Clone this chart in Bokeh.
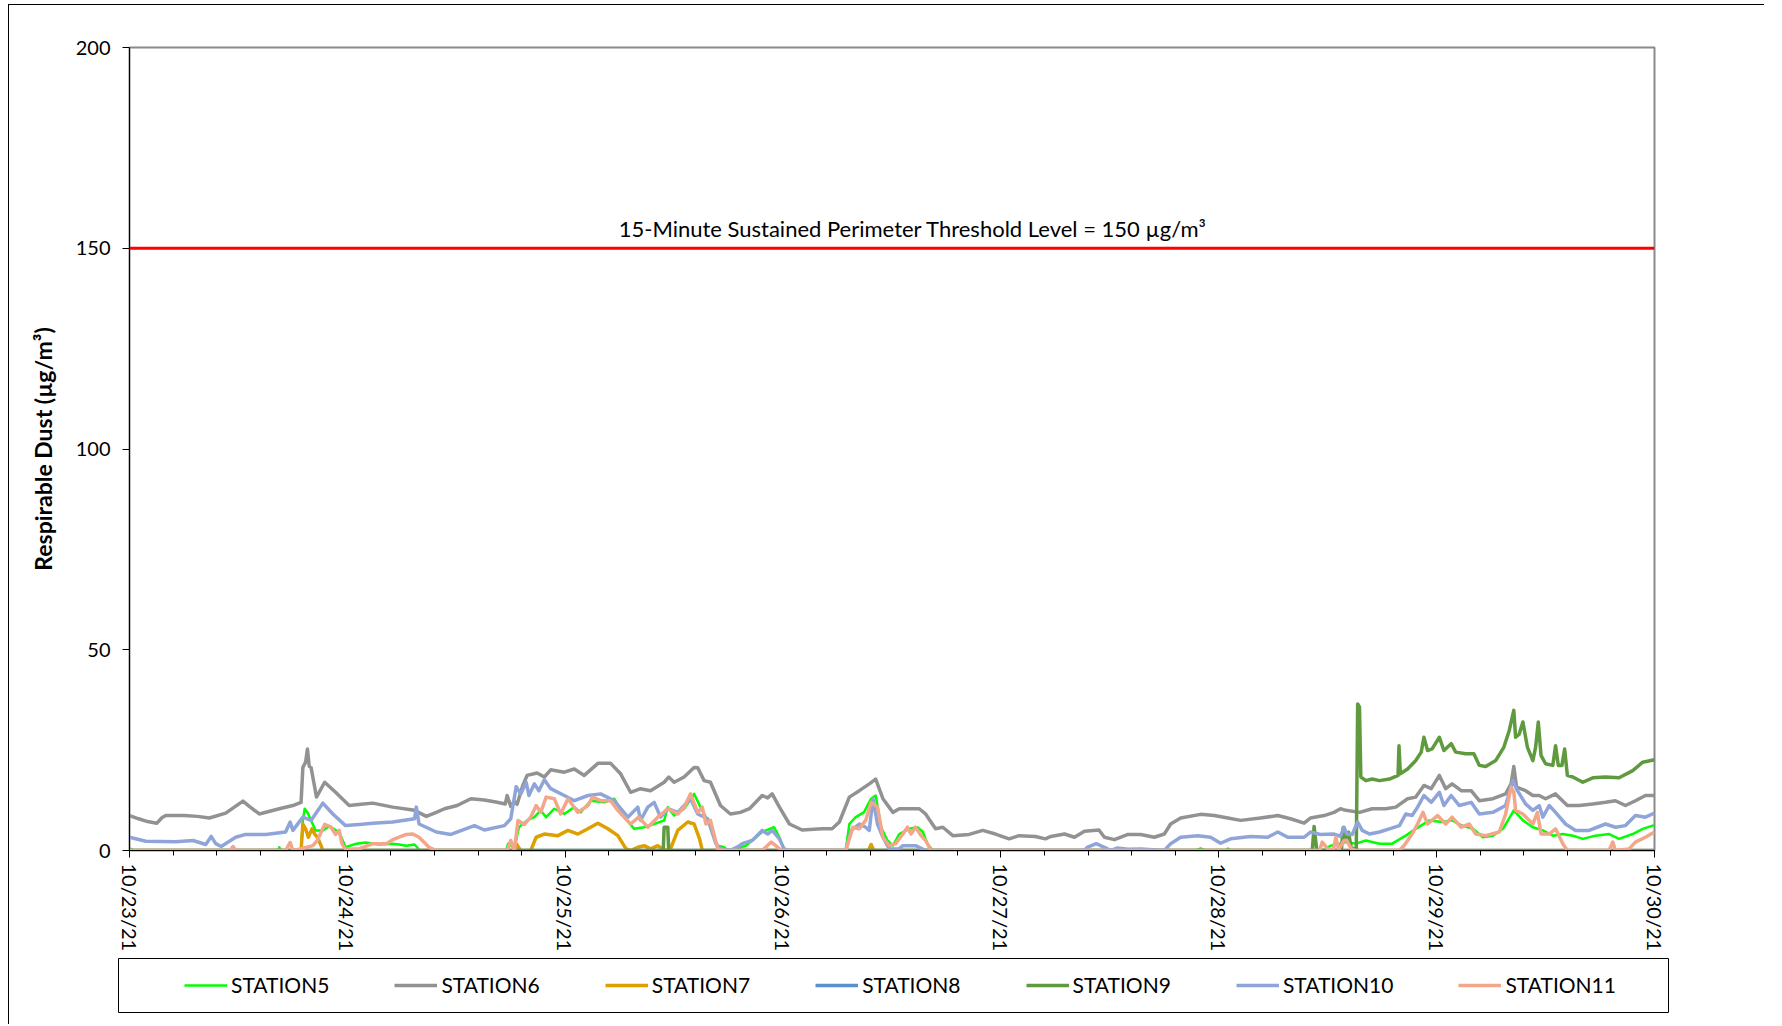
import numpy as np
import pandas as pd
from bokeh.plotting import figure
from bokeh.layouts import column
from bokeh.models import (Range1d, FixedTicker, DatetimeTickFormatter, Span, Label,
                          Legend, LegendItem)
from bokeh.embed import file_html
from bokeh.resources import INLINE

# ---------------- data (hours from 10/23/21 00:00, values in ug/m3) ----------------
START = pd.Timestamp("2021-10-23")
day_labels = ["10/23/21", "10/24/21", "10/25/21", "10/26/21",
              "10/27/21", "10/28/21", "10/29/21", "10/30/21"]
y_ticks = [0, 50, 100, 150, 200]
threshold = 150
threshold_text = "15-Minute Sustained Perimeter Threshold Level = 150 µg/m³"
y_label = "Respirable Dust (µg/m³)"

s5_h = [0, 0.5, 16.4, 16.5, 16.7, 18.9, 19.1, 19.3, 19.6, 20.0, 20.5, 21.3, 22.0, 23.1, 23.8,
        25.0, 26.0, 27.5, 29.0, 29.7, 30.5, 31.4, 32.0, 41.5, 41.7, 42.4, 42.9, 43.8, 44.6,
        45.3, 45.9, 46.8, 47.9, 49.0, 49.7, 50.8, 52.3, 53.4, 54.5, 55.6, 56.7, 57.8, 58.9,
        59.3, 60.0, 61.1, 62.2, 62.9, 63.7, 64.4, 64.8, 65.5, 65.9, 66.8, 67.9, 69.7, 71.0,
        71.6, 72.1, 72.7, 78.9, 79.3, 80.0, 80.9, 81.7, 82.2, 82.8, 83.5, 84.1, 84.8, 85.9,
        86.8, 87.4, 87.9, 88.5, 117.5, 118.0, 118.5, 120.8, 121.0, 121.3, 131.5, 132.3, 133.0,
        134.0, 135.1, 136.2, 137.7, 139.1, 140.6, 141.7, 143.2, 144.6, 145.7, 146.8, 148.0,
        149.1, 150.2, 151.3, 152.5, 153.5, 154.6, 155.7, 156.8, 157.9, 159.0, 160.1, 161.5,
        163.0, 164.1, 165.6, 166.7, 167.8, 168.0]
s5_v = [0.5, 0, 0, 0.8, 0, 0, 7.5, 10.4, 9.5, 7.5, 5.0, 5.0, 6.0, 4.6, 0.8,
        1.7, 2.0, 1.5, 1.7, 1.5, 1.2, 1.5, 0, 0, 1.7, 0.5, 5.8, 7.5, 8.3,
        10.0, 8.3, 10.4, 9.1, 10.8, 9.5, 12.4, 12.0, 12.9, 8.3, 5.4, 5.8, 6.6, 7.5,
        10.8, 8.7, 10.4, 14.1, 10.8, 7.5, 3.3, 1.2, 0.8, 0, 0.5, 1.2, 4.6, 5.8,
        3.3, 0.4, 0, 0, 6.6, 8.3, 9.5, 12.9, 13.7, 5.8, 2.5, 1.2, 4.1, 5.4,
        5.8, 4.6, 1.7, 0, 0, 0.5, 0, 0, 0.5, 0, 0, 1.2, 1.5,
        2.1, 1.7, 2.5, 1.7, 1.7, 3.7, 5.4, 7.5, 7.1, 7.5, 6.2, 5.4,
        3.3, 3.7, 5.4, 10.0, 7.5, 5.8, 5.0, 3.7, 4.1, 3.7, 2.9, 3.7,
        4.1, 2.9, 4.1, 5.4, 6.2, 6.2]

s6_h = [0, 1, 2, 3, 3.6, 4, 6, 7.5, 8.8, 10.6, 12.5, 13.2, 14.3, 16.5, 18, 18.9, 19.1, 19.4,
        19.6, 19.8, 20.0, 20.3, 20.6, 21.5, 22.7, 24.2, 25.5, 26.8, 29, 31.4, 32.7, 33.8,
        34.7, 36.1, 37.6, 39.1, 40.5, 41.4, 41.6, 42.0, 42.4, 42.7, 43.3, 43.8, 44.9, 45.7,
        46.4, 47.9, 49.0, 50.1, 51.6, 53.0, 54.1, 55.2, 56.3, 57.4, 58.9, 59.4, 60.0, 61.1,
        62.2, 62.6, 63.3, 64.0, 65.1, 66.2, 67.3, 68.3, 69.7, 70.3, 70.8, 71.6, 72.7, 74.1,
        76.3, 77.4, 78.2, 79.3, 80.4, 81.5, 82.2, 83.0, 84.1, 84.8, 87.0, 87.7, 88.8, 89.6,
        90.7, 92.5, 94.0, 95.4, 96.9, 98.0, 99.8, 100.9, 101.5, 103.0, 104.1, 105.2, 106.8,
        107.4, 108.5, 110.0, 111.4, 112.9, 114.0, 114.7, 115.8, 118.0, 119.5, 121.0, 122.4,
        124.6, 126.5, 127.9, 129.4, 130.1, 131.6, 132.7, 133.4, 134.0, 135.5, 136.9, 138.4,
        139.5, 140.8, 141.7, 142.6, 143.4, 144.3, 145.0, 145.7, 146.7, 147.8, 148.7, 150.2,
        151.6, 152.2, 152.5, 152.8, 153.8, 154.6, 155.3, 156.0, 157.1, 158.4, 159.7, 161.2,
        162.6, 163.7, 164.8, 165.9, 167.0, 168.0]
s6_v = [8.7, 7.9, 7.2, 6.8, 8.2, 8.7, 8.7, 8.5, 8.1, 9.3, 12.3, 11.0, 9.1, 10.4, 11.2, 12.0, 20.7, 22.0,
        25.3, 21.0, 20.7, 17.0, 13.3, 17.0, 14.5, 11.2, 11.5, 11.8, 10.8, 10.0, 8.5, 9.5,
        10.4, 11.2, 12.9, 12.6, 12.0, 11.6, 13.7, 11.0, 12.2, 11.5, 16.0, 18.7, 19.3, 18.3,
        20.1, 19.5, 20.3, 18.7, 21.7, 21.7, 19.1, 14.5, 15.4, 14.9, 17.0, 18.3, 17.0, 18.3,
        20.7, 20.6, 17.4, 17.0, 11.2, 9.1, 9.5, 10.4, 13.7, 13.1, 14.1, 10.8, 6.6, 5.1,
        5.4, 5.4, 7.1, 13.3, 14.9, 16.6, 17.8, 12.9, 9.5, 10.4, 10.4, 9.1, 5.4, 5.8,
        3.7, 4.0, 5.0, 4.1, 2.9, 3.7, 3.5, 2.9, 3.5, 4.1, 3.3, 4.8, 5.1,
        3.3, 2.7, 4.0, 4.0, 3.3, 4.1, 6.6, 8.1, 9.0, 8.7, 8.1, 7.5,
        8.1, 8.7, 7.9, 6.8, 8.1, 8.7, 9.5, 10.4, 10.0, 9.5, 10.4, 10.4,
        10.8, 12.9, 13.3, 16.2, 15.4, 18.7, 15.4, 16.6, 14.9, 14.9, 12.4, 12.9,
        14.1, 16.6, 20.9, 15.8, 14.9, 13.7, 13.7, 12.9, 14.1, 11.2, 11.2, 11.6,
        12.0, 12.4, 11.2, 12.4, 13.7, 13.7]

s7_h = [0, 18.9, 19.1, 19.4, 19.7, 20.1, 20.4, 20.7, 21.1, 21.3, 42.4, 42.6, 43.1, 44.2, 44.8,
        45.7, 47.2, 48.3, 49.4, 50.5, 51.6, 52.7, 53.8, 54.7, 55.2, 56.0, 56.7, 57.4, 58.2,
        58.9, 59.6, 60.4, 61.5, 62.2, 62.8, 63.1, 81.4, 81.7, 82.0, 168.0]
s7_v = [0, 0, 6.6, 5.4, 3.3, 5.4, 4.1, 3.3, 1.2, 0, 0, 1.7, 0, 0, 3.3,
        4.1, 3.7, 5.0, 4.1, 5.4, 6.8, 5.4, 3.7, 0.4, 0, 0.8, 1.2, 0.4, 1.2,
        0, 0.4, 5.0, 7.1, 6.6, 2.9, 0, 0, 1.5, 0, 0]

s8_h = [0, 168.0]
s8_v = [0, 0]

s9_h = [0, 58.8, 58.9, 59.3, 59.4, 130.3, 130.5, 130.8, 133.5, 133.7, 134.0, 134.3, 134.6,
        135.15, 135.3, 135.5, 135.65, 136.2, 136.9, 137.7, 138.8, 139.75, 139.85, 140.0, 140.8,
        141.7, 142.3, 142.6, 143.0, 143.5, 144.3, 144.8, 145.6, 146.1, 147.2, 148.1, 148.7,
        149.4, 150.5, 151.4, 152.0, 152.5, 152.7, 153.1, 153.5, 154.0, 154.6, 154.9, 155.2,
        155.5, 156.0, 156.8, 157.1, 157.4, 157.8, 158.1, 158.4, 159.0, 160.1, 161.2, 162.6,
        164.1, 165.6, 166.7, 168.0]
s9_v = [0, 0, 5.8, 5.8, 0, 0, 6.0, 0, 0, 5.7, 3.0, 4.5, 0.5,
        0.5, 36.5, 35.7, 18.3, 17.4, 17.8, 17.4, 17.8, 18.7, 26.1, 19.1, 20.3,
        22.4, 24.5, 28.2, 24.9, 25.3, 28.2, 24.9, 26.6, 24.5, 24.1, 24.1, 21.2,
        20.9, 22.4, 25.7, 29.9, 34.9, 28.2, 29.0, 32.0, 25.7, 22.4, 25.7, 32.0,
        23.7, 21.6, 21.2, 26.1, 21.2, 21.2, 25.3, 18.7, 18.3, 17.0, 18.1, 18.3,
        18.1, 19.9, 22.0, 22.6]

s10_h = [0, 1.8, 5.1, 7.0, 8.4, 9.0, 9.5, 10.1, 11.7, 12.8, 15.0, 17.2, 17.7, 18.0, 19.1, 20.0,
         21.3, 22.4, 23.8, 25.3, 26.8, 29.0, 31.4, 31.6, 31.9, 33.8, 35.4, 38.0, 39.1, 41.3,
         42.0, 42.6, 43.1, 43.7, 44.0, 44.6, 45.1, 45.7, 46.4, 47.9, 49.0, 50.5, 51.9, 53.4,
         54.9, 56.0, 56.3, 57.1, 57.8, 58.5, 59.3, 60.4, 61.8, 62.6, 63.7, 64.6, 65.1, 66.2,
         67.2, 67.5, 68.6, 69.7, 70.3, 70.8, 71.6, 72.1, 72.7, 78.9, 79.5, 80.4, 81.1, 81.5,
         81.9, 82.4, 83.0, 83.7, 84.8, 85.2, 86.6, 87.7, 105.2, 105.5, 106.5, 107.4, 108.1,
         108.8, 110.0, 111.4, 114.0, 114.7, 115.8, 117.7, 119.1, 120.2, 121.3, 123.5, 125.4,
         126.5, 127.6, 129.4, 130.1, 131.2, 132.7, 133.4, 133.8, 134.1, 134.7, 135.3, 135.8,
         136.6, 137.7, 138.8, 139.9, 140.6, 141.3, 141.9, 142.6, 143.4, 144.3, 144.8, 145.6,
         146.5, 147.8, 148.7, 150.2, 151.6, 152.4, 152.9, 153.8, 154.6, 155.3, 155.7, 156.4,
         157.1, 158.2, 159.3, 160.8, 162.6, 163.7, 164.8, 165.9, 167.0, 168.0]
s10_v = [3.3, 2.3, 2.2, 2.5, 1.5, 3.5, 1.7, 1.0, 3.3, 4.0, 4.0, 4.6, 7.1, 5.0, 8.3, 7.5,
         11.8, 9.1, 6.2, 6.5, 6.8, 7.1, 7.9, 10.8, 6.6, 4.6, 4.0, 6.2, 5.1, 6.2,
         7.9, 15.9, 14.1, 17.0, 13.7, 16.6, 14.9, 17.6, 15.4, 13.7, 12.4, 13.7, 14.1, 12.4,
         8.3, 10.8, 7.5, 10.8, 12.0, 8.3, 10.4, 9.5, 12.9, 9.1, 7.9, 1.7, 0.4, 0,
         1.2, 1.7, 2.5, 5.0, 4.1, 5.0, 2.9, 0.4, 0, 0, 5.0, 6.6, 5.8, 5.0,
         12.9, 6.6, 3.3, 0.4, 0.4, 1.2, 1.2, 0, 0, 0.8, 1.7, 0.8, 0,
         0.6, 0.3, 0.4, 0, 1.7, 3.3, 3.7, 3.3, 1.8, 2.9, 3.5, 3.3,
         4.6, 3.3, 3.3, 4.6, 4.0, 4.1, 3.5, 5.8, 4.1, 4.0, 7.1, 5.0,
         4.1, 4.6, 5.4, 6.2, 9.1, 8.7, 10.8, 13.7, 12.0, 14.5, 11.2, 13.7,
         11.2, 12.0, 9.1, 9.5, 11.2, 17.4, 14.9, 11.6, 10.0, 11.2, 8.3, 11.2,
         9.5, 6.6, 5.0, 5.0, 6.6, 5.8, 6.2, 8.7, 8.3, 9.3]

s11_h = [0, 11.1, 11.4, 11.7, 17.2, 17.7, 18.0, 18.7, 20.2, 20.7, 21.5, 22.2, 22.7, 23.1, 23.4,
         23.8, 25.3, 26.8, 28.3, 29.0, 30.5, 31.2, 31.9, 33.0, 33.8, 41.6, 42.0, 42.4, 42.8,
         43.5, 44.2, 44.8, 45.3, 45.9, 46.8, 47.5, 48.3, 49.4, 50.5, 51.0, 51.9, 53.0, 53.8,
         55.2, 56.1, 57.1, 58.2, 59.3, 60.4, 61.1, 61.8, 62.6, 63.1, 63.5, 64.0, 64.8, 65.5,
         69.7, 70.7, 71.2, 71.8, 78.9, 79.7, 80.4, 81.1, 81.7, 82.4, 83.0, 83.7, 84.4, 85.2,
         85.7, 86.1, 86.6, 87.2, 87.7, 88.3, 131.1, 131.4, 132.0, 132.6, 132.9, 133.2, 133.8,
         134.1, 134.6, 135.1, 139.9, 140.4, 141.3, 141.9, 142.5, 143.0, 144.1, 145.0, 145.7,
         146.7, 147.6, 148.3, 149.4, 150.9, 151.6, 152.2, 152.5, 152.7, 153.5, 154.6, 155.1,
         155.5, 156.4, 157.1, 157.9, 158.4, 163.0, 163.4, 163.7, 165.2, 165.9, 167.0, 168.0]
s11_v = [0, 0, 1.0, 0, 0, 2.0, 0, 0.3, 1.2, 2.5, 6.5, 5.8, 4.0, 5.0, 1.7,
         0.4, 0.4, 1.7, 1.7, 2.7, 4.0, 4.1, 3.3, 0.8, 0, 0, 2.5, 0, 7.5,
         6.5, 8.3, 11.2, 9.5, 13.3, 12.9, 9.1, 12.9, 9.5, 11.2, 13.3, 12.4, 12.4, 10.0,
         6.6, 8.3, 5.8, 8.3, 10.4, 9.1, 10.8, 14.1, 9.5, 10.8, 6.6, 7.5, 0.4, 0,
         0, 2.1, 1.2, 0, 0, 5.8, 5.4, 7.5, 12.0, 10.8, 3.3, 1.2, 1.7, 4.1,
         5.8, 4.1, 5.8, 3.7, 2.5, 0, 0, 2.1, 0.4, 0, 3.3, 0.2, 2.5,
         2.5, 0.4, 0, 0, 1.2, 4.1, 6.6, 9.5, 6.6, 8.7, 6.6, 8.3,
         5.8, 6.6, 4.1, 3.7, 4.6, 9.1, 15.8, 14.5, 10.0, 9.1, 6.6, 9.5,
         4.1, 4.1, 5.4, 1.7, 0, 0, 2.1, 0, 0.4, 2.1, 3.3, 4.6]

series_names = ["STATION5", "STATION6", "STATION7", "STATION8",
                "STATION9", "STATION10", "STATION11"]
series_hours = [s5_h, s6_h, s7_h, s8_h, s9_h, s10_h, s11_h]
series_vals = [s5_v, s6_v, s7_v, s8_v, s9_v, s10_v, s11_v]

# ---------------- styling ----------------
colors = ["#00FF00", "#929292", "#DDA000", "#5B90CC", "#5F9A3F", "#8FA5D9", "#F3A68A"]
widths = [2.5, 3.5, 3.5, 3.5, 3.5, 3.5, 3.5]
FONT = "Lato"


def to_dt(hours):
    return START + pd.to_timedelta(np.asarray(hours, dtype=float), unit="h")


def ms(ts):
    return ts.timestamp() * 1000.0


# ---------------- main chart ----------------
p = figure(x_axis_type="datetime", output_backend="svg", toolbar_location=None,
           frame_width=1525, frame_height=803,
           min_border_left=120, min_border_right=110, min_border_top=42, min_border_bottom=107,
           x_range=Range1d(START, START + pd.Timedelta(days=7)),
           y_range=Range1d(0, 200),
           background_fill_color="white", border_fill_color="white")

p.xgrid.visible = False
p.ygrid.visible = False
p.outline_line_color = "#8A8A8A"
p.outline_line_width = 2

p.add_layout(Span(location=threshold, dimension="width", line_color="#FF0000", line_width=3))
p.add_layout(Label(x=ms(START + pd.Timedelta(hours=86.3)), y=threshold, text=threshold_text,
                   text_align="center", text_baseline="bottom", y_offset=6,
                   text_font=FONT, text_font_size="22px", text_color="#000000"))

for name, h, v, c, w in zip(series_names, series_hours, series_vals, colors, widths):
    p.line(to_dt(h), v, line_color=c, line_width=w, line_join="round")

major_ticks = [ms(START + pd.Timedelta(days=k)) for k in range(len(day_labels))]
minor_ticks = [ms(START + pd.Timedelta(hours=4.8 * k)) for k in range(36)]
p.xaxis.ticker = FixedTicker(ticks=major_ticks, minor_ticks=minor_ticks)
p.xaxis.formatter = DatetimeTickFormatter(days="%m/%d/%y", months="%m/%d/%y", hours="%m/%d/%y",
                                          minutes="%m/%d/%y", years="%m/%d/%y")
p.xaxis.major_label_overrides = {t: lab for t, lab in zip(major_ticks, day_labels)}
p.xaxis.major_label_orientation = "vertical"
p.xaxis.major_tick_in = 0
p.xaxis.major_tick_out = 7
p.xaxis.minor_tick_in = 0
p.xaxis.minor_tick_out = 5
p.xaxis.major_label_standoff = 6
p.xaxis.axis_line_color = "#000000"
p.xaxis.major_tick_line_color = "#000000"
p.xaxis.minor_tick_line_color = "#000000"

p.yaxis.ticker = FixedTicker(ticks=y_ticks, minor_ticks=[])
p.yaxis.major_tick_in = 0
p.yaxis.major_tick_out = 7
p.yaxis.major_label_standoff = 12
p.yaxis.axis_line_color = "#000000"
p.yaxis.major_tick_line_color = "#000000"
p.yaxis.axis_label = y_label
p.yaxis.axis_label_text_font_style = "bold"
p.yaxis.axis_label_standoff = 16

for ax in (p.xaxis, p.yaxis):
    ax.major_label_text_font = FONT
    ax.major_label_text_font_size = "20px"
    ax.major_label_text_color = "#000000"
    ax.axis_label_text_font = FONT
    ax.axis_label_text_color = "#000000"
p.yaxis.axis_label_text_font_size = "23px"

# ---------------- legend strip (framed box under the chart) ----------------
q = figure(output_backend="svg", toolbar_location=None,
           frame_width=1550, frame_height=54,
           min_border_left=120, min_border_right=85, min_border_top=1, min_border_bottom=12,
           x_range=Range1d(0, 1), y_range=Range1d(0, 1),
           x_axis_location=None, y_axis_location=None,
           background_fill_color="white", border_fill_color=None)
q.grid.visible = False
q.outline_line_color = "#000000"
q.outline_line_width = 1
q.styles = {"margin-left": "-11px"}

legend_renderers = []
for c, w in zip(colors, widths):
    # off-range sample segment: only the legend swatch is visible
    legend_renderers.append(q.line(x=[-3, -2], y=[-3, -2], line_color=c, line_width=w))

legend = Legend(items=[LegendItem(label=n, renderers=[r])
                       for n, r in zip(series_names, legend_renderers)],
                orientation="horizontal", location=(66, 15),
                border_line_alpha=0, background_fill_alpha=0, padding=0, margin=0,
                spacing=65, glyph_width=43, glyph_height=24, label_height=24,
                label_standoff=4, label_text_font=FONT, label_text_font_size="21px",
                label_text_color="#000000", label_text_baseline="middle")
q.add_layout(legend, "center")

layout = column(p, q, spacing=0)
layout.styles = {"margin-left": "8px", "margin-top": "4px",
                 "border-left": "1px solid #000000", "border-top": "1px solid #000000"}

open("out.html", "w").write(file_html(layout, INLINE))
